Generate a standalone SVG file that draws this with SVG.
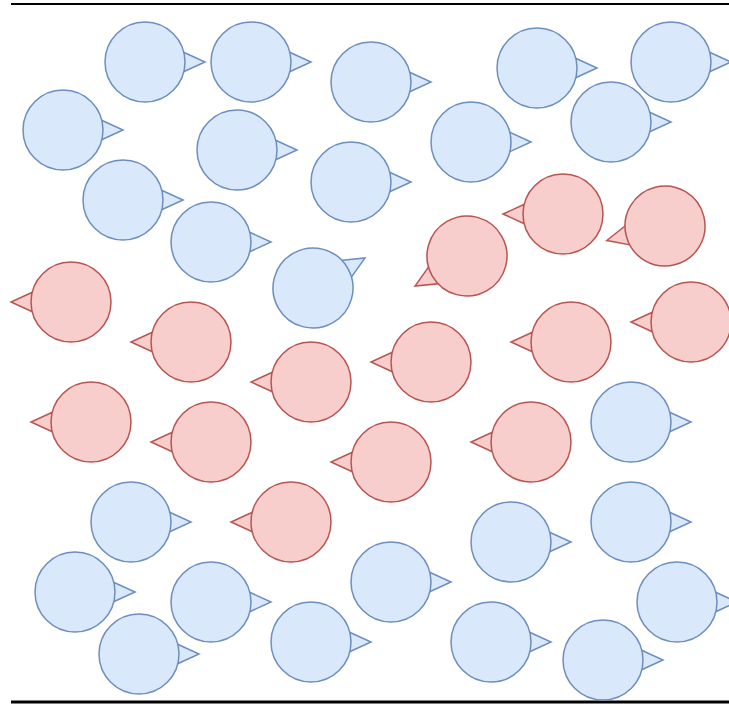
<svg xmlns="http://www.w3.org/2000/svg" xmlns:xlink="http://www.w3.org/1999/xlink" width="729" height="704" viewBox="0 0 729 704">
<style>
.b{fill:#dae8fc;stroke:#6c8ebf;stroke-width:1.5}
.r{fill:#f8cecc;stroke:#b85450;stroke-width:1.5}
.rule{stroke:#000;fill:none}
</style>
<defs>
<g id="fr"><polygon points="37,-10.5 60,0 37,10.5"/><circle r="40"/></g>
<g id="fl"><polygon points="-37,-10.5 -60,0 -37,10.5"/><circle r="40"/></g>
</defs>
<rect width="729" height="704" fill="#fff"/>
<g id="rules">
<line class="rule" x1="11" y1="4" x2="729" y2="4" stroke-width="2"/>
<line class="rule" x1="11" y1="702" x2="729" y2="702" stroke-width="3"/>
</g>
<g id="b1"><use href="#fr" class="b" transform="translate(145,62)"/></g>
<g id="b2"><use href="#fr" class="b" transform="translate(251,62)"/></g>
<g id="b3"><use href="#fr" class="b" transform="translate(371,82)"/></g>
<g id="b4"><use href="#fr" class="b" transform="translate(537,68)"/></g>
<g id="b5"><use href="#fr" class="b" transform="translate(671,62)"/></g>
<g id="b6"><use href="#fr" class="b" transform="translate(63,130)"/></g>
<g id="b7"><use href="#fr" class="b" transform="translate(237,150)"/></g>
<g id="b8"><use href="#fr" class="b" transform="translate(611,122)"/></g>
<g id="b9"><use href="#fr" class="b" transform="translate(471,142)"/></g>
<g id="b10"><use href="#fr" class="b" transform="translate(123,200)"/></g>
<g id="b11"><use href="#fr" class="b" transform="translate(351,182)"/></g>
<g id="b12"><use href="#fr" class="b" transform="translate(211,242)"/></g>
<g id="b13"><use href="#fr" class="b" transform="translate(313,288) rotate(-30)"/></g>
<g id="r1"><use href="#fl" class="r" transform="translate(563,214)"/></g>
<g id="r2"><use href="#fl" class="r" transform="translate(665,226) rotate(-14)"/></g>
<g id="r3"><use href="#fl" class="r" transform="translate(467,256) rotate(-30)"/></g>
<g id="r4"><use href="#fl" class="r" transform="translate(71,302)"/></g>
<g id="r5"><use href="#fl" class="r" transform="translate(191,342)"/></g>
<g id="r6"><use href="#fl" class="r" transform="translate(311,382)"/></g>
<g id="r7"><use href="#fl" class="r" transform="translate(431,362)"/></g>
<g id="r8"><use href="#fl" class="r" transform="translate(571,342)"/></g>
<g id="r9"><use href="#fl" class="r" transform="translate(691,322)"/></g>
<g id="r10"><use href="#fl" class="r" transform="translate(91,422)"/></g>
<g id="r11"><use href="#fl" class="r" transform="translate(211,442)"/></g>
<g id="r12"><use href="#fl" class="r" transform="translate(391,462)"/></g>
<g id="r13"><use href="#fl" class="r" transform="translate(531,442)"/></g>
<g id="r14"><use href="#fl" class="r" transform="translate(291,522)"/></g>
<g id="b14"><use href="#fr" class="b" transform="translate(631,422)"/></g>
<g id="b15"><use href="#fr" class="b" transform="translate(131,522)"/></g>
<g id="b16"><use href="#fr" class="b" transform="translate(631,522)"/></g>
<g id="b17"><use href="#fr" class="b" transform="translate(511,542)"/></g>
<g id="b18"><use href="#fr" class="b" transform="translate(75,592)"/></g>
<g id="b19"><use href="#fr" class="b" transform="translate(211,602)"/></g>
<g id="b20"><use href="#fr" class="b" transform="translate(391,582)"/></g>
<g id="b21"><use href="#fr" class="b" transform="translate(677,602)"/></g>
<g id="b22"><use href="#fr" class="b" transform="translate(139,654)"/></g>
<g id="b23"><use href="#fr" class="b" transform="translate(311,642)"/></g>
<g id="b24"><use href="#fr" class="b" transform="translate(491,642)"/></g>
<g id="b25"><use href="#fr" class="b" transform="translate(603,660)"/></g>
</svg>
